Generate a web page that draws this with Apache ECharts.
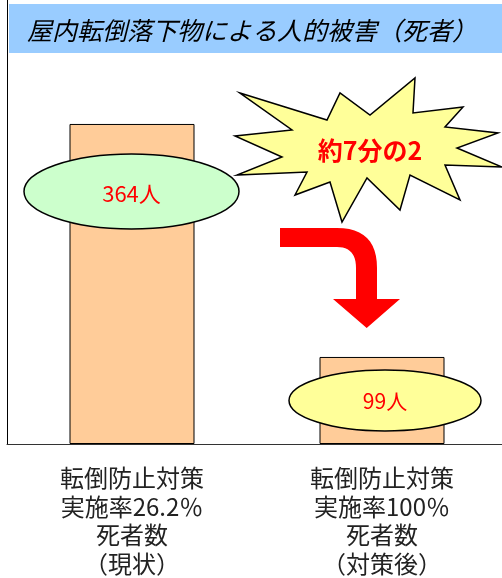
<!DOCTYPE html>
<html>
<head>
<meta charset="utf-8">
<title>屋内転倒落下物による人的被害（死者）</title>
<script src="https://cdn.jsdelivr.net/npm/echarts@6/dist/echarts.min.js"></script>
</head>
<body style="margin:0;padding:0;">
<div id="main" style="width:502px;height:578px;"></div>
<script>
// データ
var titleText = '屋内転倒落下物による人的被害（死者）';
var categories = [
    '転倒防止対策\n実施率26.2％\n死者数\n（現状）',
    '転倒防止対策\n実施率100％\n死者数\n（対策後）'
];
var deaths = [364, 99];
var ratioText = '約7分の2';
var unit = '人';

var JP = '"Noto Sans CJK JP", "Noto Sans", sans-serif';

// 2次ベジェを折れ線に展開
function quad(p0, c, p1, n) {
    var pts = [];
    for (var i = 0; i <= n; i++) {
        var t = i / n, u = 1 - t;
        pts.push([u * u * p0[0] + 2 * u * t * c[0] + t * t * p1[0],
                  u * u * p0[1] + 2 * u * t * c[1] + t * t * p1[1]]);
    }
    return pts;
}
var arrowPts = [[280, 228]]
    .concat(quad([337, 228], [377, 228], [377, 268], 12))
    .concat([[377, 299], [400, 299], [366.7, 328], [333, 299], [356, 299]])
    .concat(quad([356, 268], [356, 247], [337, 247], 12))
    .concat([[280, 247]]);

var myChart = echarts.init(document.getElementById('main'));

var option = {
    backgroundColor: '#ffffff',
    animation: false,
    title: {
        text: titleText,
        left: 27,
        top: 18,
        padding: 0,
        textStyle: {
            fontFamily: JP,
            fontSize: 25,
            fontWeight: 'normal',
            fontStyle: 'italic',
            color: '#000',
            lineHeight: 25
        }
    },
    grid: { left: 7, top: 0, width: 500, height: 444, outerBoundsMode: 'none', containLabel: false },
    xAxis: {
        type: 'category',
        data: categories,
        axisLine: { lineStyle: { color: '#333', width: 1 } },
        axisTick: { show: false },
        axisLabel: {
            margin: 20,
            fontFamily: JP,
            fontSize: 24,
            lineHeight: 28.5,
            color: '#222',
            align: 'center'
        }
    },
    yAxis: {
        type: 'value',
        min: 0,
        max: 505,
        axisLine: { show: true, lineStyle: { color: '#000', width: 1 } },
        axisTick: { show: false },
        axisLabel: { show: false },
        splitLine: { show: false }
    },
    series: [{
        name: '死者数',
        type: 'bar',
        data: deaths,
        barWidth: 125,
        itemStyle: { color: '#FFCC99', borderColor: '#000', borderWidth: 1 }
    }],
    graphic: [
        // タイトル帯
        { type: 'rect', z: 0, shape: { x: 9, y: 4, width: 493, height: 49 }, style: { fill: '#99CCFF' } },
        // 楕円ラベル
        { type: 'ellipse', z: 10, shape: { cx: 131.5, cy: 191.5, rx: 107.5, ry: 37.5 },
          style: { fill: '#CCFFCC', stroke: '#000', lineWidth: 1.5 } },
        { type: 'text', z: 11, x: 131.5, y: 194,
          style: { text: deaths[0] + unit, fill: '#FF0000', font: '22px ' + JP, align: 'center', verticalAlign: 'middle' } },
        { type: 'ellipse', z: 10, shape: { cx: 385, cy: 400.5, rx: 96, ry: 30.5 },
          style: { fill: '#FFFF99', stroke: '#000', lineWidth: 1.5 } },
        { type: 'text', z: 11, x: 385, y: 401,
          style: { text: deaths[1] + unit, fill: '#FF0000', font: '21px ' + JP, align: 'center', verticalAlign: 'middle' } },
        // 爆発マーク
        { type: 'polygon', z: 12,
          shape: { points: [
              [240, 93], [327, 120], [340, 93], [370, 115], [415, 78], [413, 113],
              [463, 107], [445, 127], [498, 133], [457, 148], [502, 167], [445, 165],
              [460, 200], [410, 175], [400, 210], [367, 178], [342, 222], [330, 182],
              [295, 195], [307, 172], [237, 175], [282, 157], [235, 136], [292, 130]
          ] },
          style: { fill: '#FFFF99', stroke: '#000', lineWidth: 1.5 } },
        { type: 'text', z: 13, x: 370, y: 150,
          style: { text: ratioText, fill: '#FF0000', font: 'bold 25px ' + JP, align: 'center', verticalAlign: 'middle' } },
        // 矢印
        { type: 'polygon', z: 12, shape: { points: arrowPts }, style: { fill: '#FF0000' } }
    ]
};

myChart.setOption(option);
</script>
</body>
</html>
